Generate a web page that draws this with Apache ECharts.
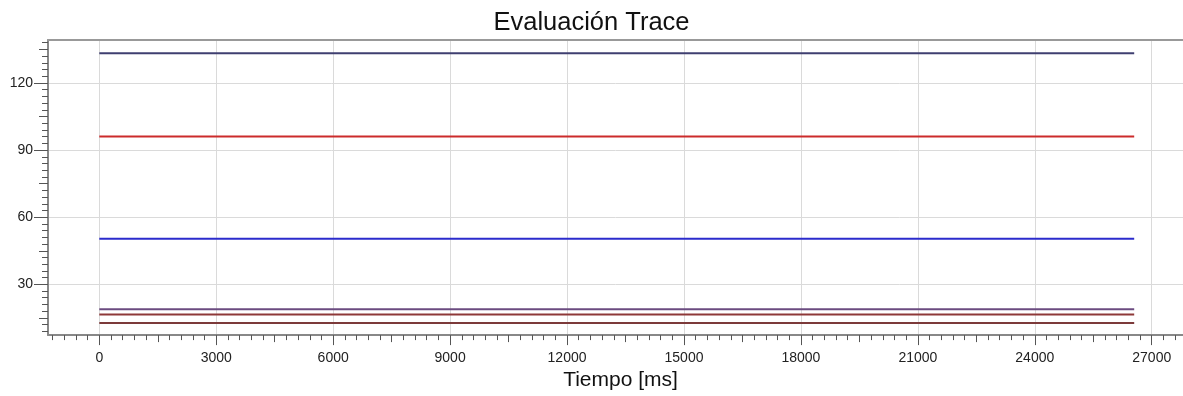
<!DOCTYPE html>
<html>
<head>
<meta charset="utf-8">
<script src="https://cdn.jsdelivr.net/npm/echarts@6/dist/echarts.min.js"></script>
<style>
html,body{margin:0;padding:0;background:#fff;}
#chart{width:1183px;height:396px;}
</style>
</head>
<body>
<div id="chart"></div>
<script>
// ---- data ----
const chartTitle = 'Evaluación Trace';
const xAxisName = 'Tiempo [ms]';
const timeRangeMs = [0, 26550];                 // start / end of every trace
const traceLevels = [133.3, 96.1, 50.4, 18.9, 16.5, 12.7];
const traceColors = ['#3f3f70', '#cc2b2b', '#2b2bcc', '#6b4b80', '#8e3838', '#7c3a3a'];
const xTickLabels = [0, 3000, 6000, 9000, 12000, 15000, 18000, 21000, 24000, 27000];
const yTickLabels = [30, 60, 90, 120];

// axis extents
const xMin = -1316, xMax = 27802;
const yMin = 7.3, yMax = 139.2;

// secondary tick positions (half steps and tenths)
const xMidTicks = [], xMinorTicks = [];
for (let v = -1200; v <= xMax; v += 300) { if (v % 3000 !== 0) xMinorTicks.push(v); }
for (let v = 1500; v <= xMax; v += 3000) xMidTicks.push(v);
const yMidTicks = [], yMinorTicks = [];
for (let v = 9; v <= yMax; v += 3) { if (v % 30 !== 0) yMinorTicks.push(v); }
for (let v = 15; v <= yMax; v += 30) yMidTicks.push(v);

const FONT = 'Liberation Sans, Arial, sans-serif';

function xAx(ticks, len, extra) {
  return Object.assign({
    type: 'value', min: xMin, max: xMax, position: 'bottom',
    axisLine: { show: false, onZero: false },
    axisTick: { show: true, customValues: ticks, length: len, lineStyle: { color: '#555', width: 1 } },
    axisLabel: { show: false },
    splitLine: { show: false }
  }, extra || {});
}
function yAx(ticks, len, extra) {
  return Object.assign({
    type: 'value', min: yMin, max: yMax, position: 'left',
    axisLine: { show: false, onZero: false },
    axisTick: { show: true, customValues: ticks, length: len, lineStyle: { color: '#555', width: 1 } },
    axisLabel: { show: false },
    splitLine: { show: false }
  }, extra || {});
}

const chart = echarts.init(document.getElementById('chart'), null, { renderer: 'canvas' });
chart.setOption({
  animation: false,
  backgroundColor: '#fff',
  title: {
    text: chartTitle, left: 'center', top: 5,
    textStyle: { fontFamily: FONT, fontSize: 25.5, fontWeight: 'normal', color: '#111' }
  },
  grid: {
    left: 48, right: 0, top: 40, bottom: 58, show: false
  },
  xAxis: [
    xAx(xTickLabels, 10, {
      axisLine: { show: true, onZero: false, lineStyle: { color: '#888', width: 2 } },
      axisLabel: { show: true, customValues: xTickLabels, margin: 16, fontFamily: FONT, fontSize: 14, color: '#222',
                   formatter: v => String(v) },
      splitLine: { show: true, lineStyle: { color: '#dadada', width: 1 } },
      name: xAxisName, nameLocation: 'middle', nameGap: 30,
      nameTextStyle: { fontFamily: FONT, fontSize: 21, color: '#111', padding: [0, 0, 0, 10] }
    }),
    xAx(xMidTicks, 7),
    xAx(xMinorTicks, 5),
    xAx([], 0, {
      position: 'top',
      axisLine: { show: true, onZero: false, lineStyle: { color: '#999', width: 2 } },
      axisTick: { show: false }
    })
  ],
  yAxis: [
    yAx(yTickLabels, 14, {
      axisLine: { show: true, onZero: false, lineStyle: { color: '#888', width: 2 } },
      axisLabel: { show: true, customValues: yTickLabels, margin: 15, fontFamily: FONT, fontSize: 14, color: '#222' },
      splitLine: { show: true, lineStyle: { color: '#dadada', width: 1 } }
    }),
    yAx(yMidTicks, 9),
    yAx(yMinorTicks, 6)
  ],
  series: traceLevels.map((lvl, i) => ({
    type: 'line',
    xAxisIndex: 0, yAxisIndex: 0,
    symbol: 'none',
    data: timeRangeMs.map(t => [t, lvl]),
    lineStyle: { color: traceColors[i], width: 2 },
    itemStyle: { color: traceColors[i] }
  }))
});
</script>
</body>
</html>
